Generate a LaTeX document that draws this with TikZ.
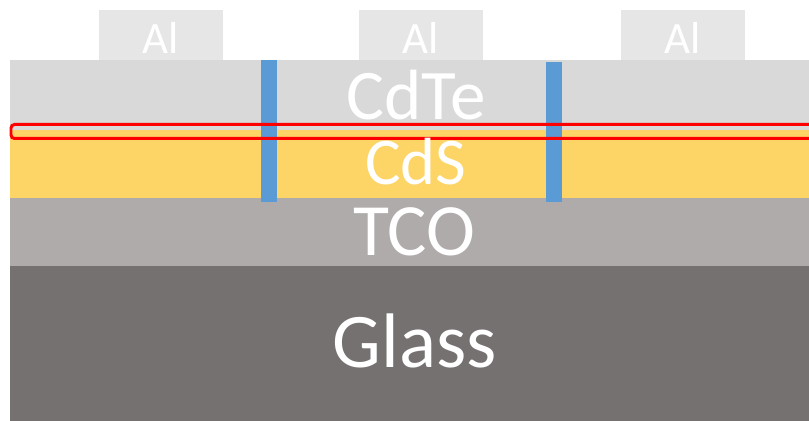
\documentclass[tikz,border=0pt]{standalone}
\usepackage{fontspec}
\setmainfont{Carlito}
\usepackage{xcolor}
\definecolor{AlGray}{HTML}{E6E6E6}
\definecolor{CdTeGray}{HTML}{D9D9D9}
\definecolor{CdSYellow}{HTML}{FDD566}
\definecolor{TCOGray}{HTML}{AFABAB}
\definecolor{GlassGray}{HTML}{767171}
\definecolor{ScribeBlue}{HTML}{5B9BD5}
\usepackage{tikz}

\begin{document}
\begin{tikzpicture}[x=0.02cm, y=-0.02cm,
    every node/.style={text=white, inner sep=0pt},
    layer/.style={fill=#1},
    scribe/.style={fill=ScribeBlue}]
  \useasboundingbox (0,0) rectangle (809,421);
  \begin{scope}
  \clip (0,0) rectangle (809,421);
  % contacts
  \foreach \xl in {99,359,621}
    \fill[layer=AlGray] (\xl,10) rectangle ++(124,51);
  % stack
  \fill[layer=CdTeGray] (10,60) rectangle (830,130);
  \fill[layer=CdSYellow] (10,130) rectangle (830,198);
  \fill[layer=TCOGray] (10,198) rectangle (830,266);
  \fill[layer=GlassGray] (10,266) rectangle (830,421);
  % scribe lines
  \fill[scribe] (261,60) rectangle (277,202);
  \fill[scribe] (546,62) rectangle (562,202);
  % interface marker
  \draw[red, line width=1.7pt, rounded corners=2pt] (11,124.5) rectangle (840,138.5);
  \end{scope}
  % labels
  \node[anchor=base, font=\fontsize{25.5}{26}\selectfont] (al1) at (161,54) {Al};
  \node[anchor=base, font=\fontsize{25.5}{26}\selectfont] (al2) at (421,54) {Al};
  \node[anchor=base, font=\fontsize{25.5}{26}\selectfont] (al3) at (683,54) {Al};
  \node[anchor=base, font=\fontsize{40.5}{41}\selectfont] (cdte) at (416,120) {CdTe};
  \node[anchor=base, font=\fontsize{38}{39}\selectfont] (cds) at (416,185) {CdS};
  \node[anchor=base, font=\fontsize{42}{43}\selectfont] (tco) at (414,256) {TCO};
  \node[anchor=base, font=\fontsize{44}{45}\selectfont] (glass) at (415,368) {Glass};
\end{tikzpicture}
\end{document}
